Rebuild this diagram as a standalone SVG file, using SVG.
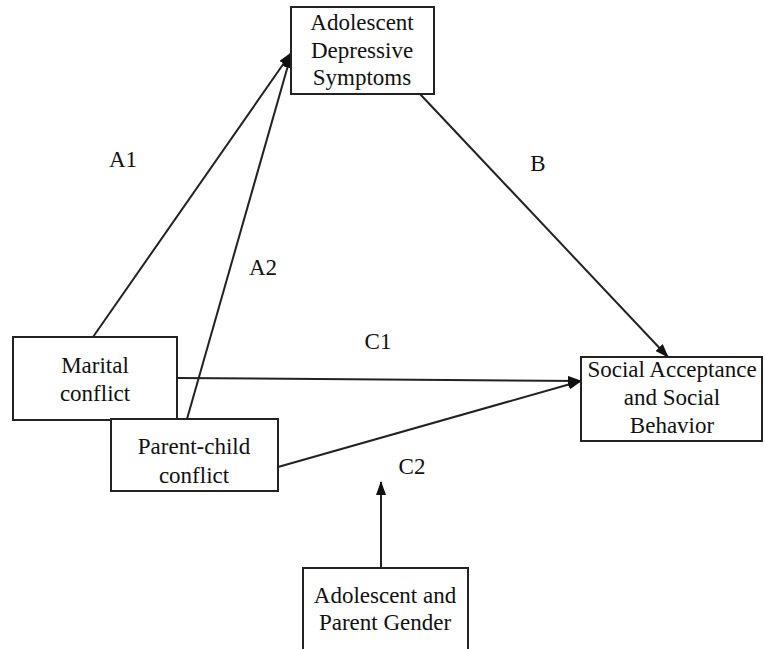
<svg xmlns="http://www.w3.org/2000/svg" width="765" height="649" viewBox="0 0 765 649">
<defs>
<marker id="ah" markerWidth="14" markerHeight="10" refX="13" refY="5" orient="auto" markerUnits="userSpaceOnUse">
<path d="M0,0 L14,5 L0,10 Z" fill="#111"/>
</marker>
<style>
.box{fill:#fff;stroke:#222;stroke-width:2}
.t{font-family:'Times New Roman','Liberation Serif','DejaVu Serif',serif;font-size:23px;fill:#111;text-anchor:middle}
.ln{stroke:#222;stroke-width:2;fill:none;marker-end:url(#ah)}
</style>
</defs>
<rect width="765" height="649" fill="#fff"/>
<g id="connectors">
<line class="ln" x1="93" y1="337" x2="291" y2="53"/>
<line class="ln" x1="187" y1="419" x2="291" y2="55"/>
<line class="ln" x1="420" y1="94" x2="668" y2="357"/>
<line class="ln" x1="177" y1="378" x2="581" y2="381"/>
<line class="ln" x1="278" y1="467" x2="581" y2="381"/>
<line class="ln" x1="381" y1="568" x2="381" y2="482"/>
<text class="t" x="123" y="167">A1</text>
<text class="t" x="263" y="275">A2</text>
<text class="t" x="538" y="171">B</text>
<text class="t" x="378" y="349">C1</text>
<text class="t" x="412" y="474">C2</text>
</g>
<g id="depressive">
<rect class="box" x="291" y="7" width="143" height="87"/>
<text class="t" x="362" y="30">Adolescent</text>
<text class="t" x="362" y="58">Depressive</text>
<text class="t" x="362" y="85">Symptoms</text>
</g>
<g id="marital">
<rect class="box" x="13" y="337" width="164" height="83"/>
<text class="t" x="95" y="373">Marital</text>
<text class="t" x="95" y="401">conflict</text>
</g>
<g id="parentchild">
<rect class="box" x="111" y="419" width="167" height="72"/>
<text class="t" x="194" y="454">Parent-child</text>
<text class="t" x="194" y="483">conflict</text>
</g>
<g id="social">
<rect class="box" x="581" y="357" width="181" height="84"/>
<text class="t" x="672" y="377">Social Acceptance</text>
<text class="t" x="672" y="405">and Social</text>
<text class="t" x="672" y="433">Behavior</text>
</g>
<g id="gender">
<rect class="box" x="303" y="568" width="165" height="90"/>
<text class="t" x="385" y="603">Adolescent and</text>
<text class="t" x="385" y="630">Parent Gender</text>
</g>
</svg>
